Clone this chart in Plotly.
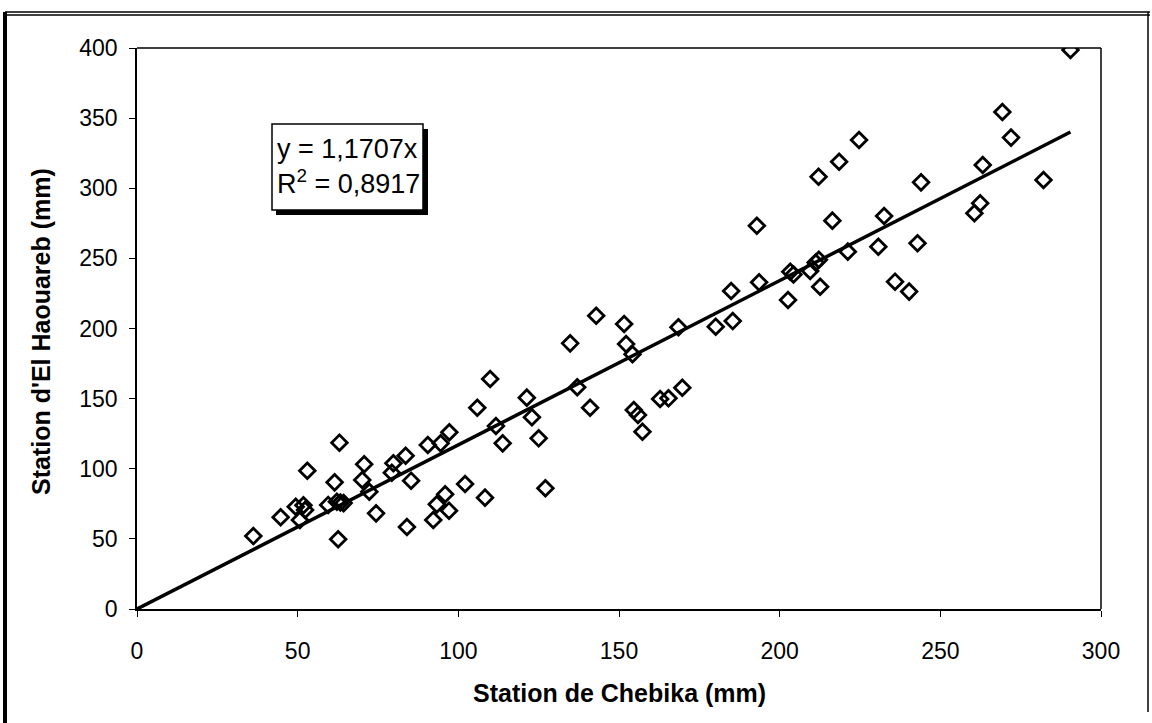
import plotly.graph_objects as go

# Data (Station de Chebika vs Station d'El Haouareb, mm)
chebika = [36.2, 44.7, 49.4, 50.7, 51.8, 52.3, 53.0, 59.5, 61.5, 62.2, 63.3, 64.3,
           63.0, 62.6, 70.1, 70.7, 72.3, 74.4, 79.3, 79.8, 83.6, 84.0, 85.3, 90.5,
           92.2, 93.3, 94.5, 95.9, 97.1, 97.2, 102.1, 105.9, 108.3, 109.9, 111.7,
           113.8, 121.3, 122.9, 125.0, 127.1, 134.8, 137.0, 141.0, 142.9, 151.6,
           152.2, 154.2, 154.6, 155.9, 157.3, 162.8, 165.4, 168.5, 169.7, 180.1,
           184.9, 185.4, 192.9, 193.6, 202.6, 203.3, 204.3, 209.5, 211.2, 212.2,
           212.6, 212.1, 216.4, 218.5, 221.2, 224.7, 230.7, 232.5, 235.9, 240.3,
           242.9, 244.0, 260.6, 262.4, 263.2, 269.3, 272.0, 282.1, 290.5]
haouareb = [52.0, 65.4, 72.9, 63.5, 74.0, 70.6, 98.6, 74.2, 90.3, 76.5, 76.0, 75.5,
            118.6, 49.7, 92.0, 103.2, 83.6, 68.2, 97.2, 103.9, 109.3, 58.5, 91.5, 116.9,
            63.5, 74.6, 118.1, 81.8, 70.1, 126.0, 89.1, 143.5, 79.4, 164.0, 130.5,
            118.1, 150.7, 136.7, 121.7, 86.1, 189.4, 158.1, 143.5, 209.1, 203.2,
            188.9, 181.6, 141.9, 138.3, 126.4, 149.7, 150.2, 200.9, 157.8, 201.3,
            226.7, 205.3, 273.3, 232.9, 220.3, 240.5, 238.5, 241.0, 247.0, 249.0,
            229.8, 308.2, 276.9, 318.9, 254.8, 334.4, 258.3, 280.2, 233.4, 226.3,
            260.8, 304.2, 282.2, 289.3, 316.6, 354.4, 336.1, 305.9, 398.6]

slope = 1.1707
x_ticks = [0, 50, 100, 150, 200, 250, 300]
y_ticks = [0, 50, 100, 150, 200, 250, 300, 350, 400]

FONT = "Arial, Liberation Sans, sans-serif"

# Plot area geometry in pixels (for frame shapes)
L, R, T, B = 137, 1101, 48, 609
W, H = R - L, B - T
def px(x):
    return (x - L) / W
def py(y):
    return (B - y) / H

fig = go.Figure()

fig.add_trace(go.Scatter(
    x=[0, max(chebika)], y=[0, slope * max(chebika)],
    mode="lines", line=dict(color="black", width=3.5), hoverinfo="skip",
    showlegend=False))

fig.add_trace(go.Scatter(
    x=chebika, y=haouareb, mode="markers",
    marker=dict(symbol="diamond-open", size=12, color="black",
                line=dict(color="black", width=2.8)),
    showlegend=False))

axis_common = dict(showgrid=False, zeroline=False, showline=True, linecolor="black",
                   linewidth=1.5, ticks="outside", ticklen=6, tickwidth=1.2,
                   tickcolor="black", tickfont=dict(family=FONT, size=23, color="black"),
                   mirror=False)

fig.update_xaxes(range=[0, 300], tickvals=x_ticks, ticklabelstandoff=15, **axis_common)
fig.update_yaxes(range=[0, 400], tickvals=y_ticks, ticklabelstandoff=7, **axis_common)

shapes = [
    # plot area top and right borders
    dict(type="line", xref="paper", yref="paper", x0=0, x1=1, y0=1, y1=1,
         line=dict(color="black", width=1.5)),
    dict(type="line", xref="paper", yref="paper", x0=1, x1=1, y0=0, y1=1,
         line=dict(color="black", width=1.5)),
    # outer frame
    dict(type="line", xref="paper", yref="paper", x0=px(5), x1=px(5), y0=py(12), y1=py(723),
         line=dict(color="black", width=4)),
    dict(type="line", xref="paper", yref="paper", x0=px(5), x1=px(1150), y0=py(12), y1=py(12),
         line=dict(color="black", width=1.5)),
    dict(type="line", xref="paper", yref="paper", x0=px(5), x1=px(1150), y0=py(15), y1=py(15),
         line=dict(color="black", width=1.5)),
    dict(type="line", xref="paper", yref="paper", x0=px(1148), x1=px(1148), y0=py(12), y1=py(712),
         line=dict(color="black", width=1.5)),
    # equation box shadow and box
    dict(type="rect", xref="paper", yref="paper", x0=px(276), x1=px(428), y0=py(215), y1=py(129),
         fillcolor="black", line=dict(width=0)),
    dict(type="rect", xref="paper", yref="paper", x0=px(272), x1=px(423), y0=py(210), y1=py(124),
         fillcolor="white", line=dict(color="black", width=1.5)),
]

annotations = [
    dict(text="y = 1,1707x<br>R<sup>2</sup> = 0,8917", xref="paper", yref="paper",
         x=px(275), y=py(166), xanchor="left", yanchor="middle", showarrow=False,
         align="left", font=dict(family=FONT, size=27, color="black")),
    dict(text="<b>Station de Chebika (mm)</b>", xref="paper", yref="paper",
         x=0.5, y=py(693), xanchor="center", yanchor="middle", showarrow=False,
         font=dict(family=FONT, size=25, color="black")),
    dict(text="<b>Station d'El Haouareb (mm)</b>", xref="paper", yref="paper",
         x=px(41), y=py(332), xanchor="center", yanchor="middle", showarrow=False,
         textangle=-90, font=dict(family=FONT, size=25, color="black")),
]

fig.update_layout(
    width=1152, height=723, autosize=False,
    margin=dict(l=L, r=1152 - R, t=T, b=723 - B),
    paper_bgcolor="white", plot_bgcolor="white",
    shapes=shapes, annotations=annotations, showlegend=False,
)

fig.write_html("out.html", config={"displayModeBar": False},
               post_script="document.body.style.margin='0';document.body.style.overflow='hidden';")
